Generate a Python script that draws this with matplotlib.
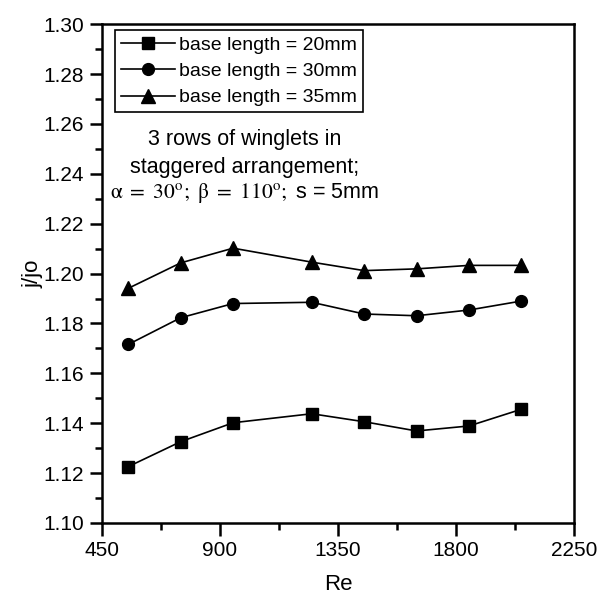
import matplotlib.pyplot as plt
from matplotlib.ticker import MultipleLocator

plt.rcParams["font.family"] = ["Liberation Sans", "DejaVu Sans"]
plt.rcParams["mathtext.fontset"] = "stix"

# Datos
re = [550, 750, 950, 1250, 1450, 1650, 1850, 2050]
jjo_20mm = [1.1226, 1.1326, 1.1402, 1.1438, 1.1406, 1.1369, 1.1389, 1.1456]
jjo_30mm = [1.1716, 1.1823, 1.1880, 1.1885, 1.1838, 1.1831, 1.1854, 1.1890]
jjo_35mm = [1.1941, 1.2043, 1.2102, 1.2046, 1.2012, 1.2019, 1.2033, 1.2033]
labels = ["base length = 20mm", "base length = 30mm", "base length = 35mm"]

fig = plt.figure(figsize=(6.04, 6.06), dpi=100)
ax = fig.add_axes([0.169, 0.137, 0.781, 0.823])

ax.plot(re, jjo_20mm, "k-s", lw=1.2, ms=8, label=labels[0])
ax.plot(re, jjo_30mm, "k-o", lw=1.2, ms=8.5, label=labels[1])
ax.plot(re, jjo_35mm, "k-^", lw=1.2, ms=9.5, label=labels[2])

ax.set_xlim(450, 2250)
ax.set_ylim(1.10, 1.30)
ax.xaxis.set_major_locator(MultipleLocator(450))
ax.xaxis.set_minor_locator(MultipleLocator(225))
ax.yaxis.set_major_locator(MultipleLocator(0.02))
ax.yaxis.set_minor_locator(MultipleLocator(0.01))
ax.yaxis.set_major_formatter(plt.FormatStrFormatter("%.2f"))

for sp in ax.spines.values():
    sp.set_linewidth(1.8)
ax.tick_params(which="major", direction="out", length=9, width=1.8,
               labelsize=15, pad=4)
ax.tick_params(which="minor", direction="out", length=5, width=1.8)

ax.set_xlabel("Re", fontsize=16, labelpad=10)
ax.set_ylabel("j/jo", fontsize=16, labelpad=0)

leg = ax.legend(loc="upper left", bbox_to_anchor=(0.0275, 0.988),
                borderaxespad=0, fancybox=False, edgecolor="black",
                fontsize=14, handlelength=2.8, handletextpad=0.2,
                labelspacing=0.45, borderpad=0.3, framealpha=1)
leg.get_frame().set_linewidth(1.2)

ax.text(0.303, 0.768, "3 rows of winglets in", transform=ax.transAxes,
        ha="center", va="center", fontsize=15.5)
ax.text(0.303, 0.713, "staggered arrangement;", transform=ax.transAxes,
        ha="center", va="center", fontsize=15.5)
ax.text(0.303, 0.661,
        r"$\mathrm{α\ =\ 30^{o};\ β\ =\ 110^{o};}$ s = 5mm",
        transform=ax.transAxes, ha="center", va="center", fontsize=15.5)

fig.savefig("out.png", dpi=100)
